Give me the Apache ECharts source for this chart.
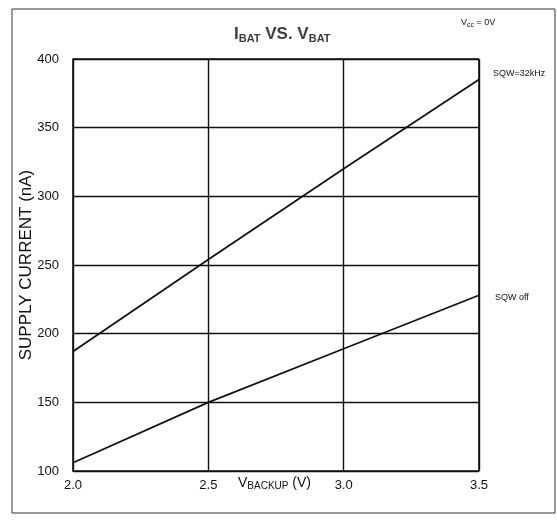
<!DOCTYPE html>
<html><head><meta charset="utf-8">
<script src="https://cdn.jsdelivr.net/npm/echarts@6/dist/echarts.min.js"></script>
<style>html,body{margin:0;padding:0;background:#fff}#c{width:557px;height:529px}</style>
</head><body><div id="c"></div>
<script>
const vBackup = [2.0, 2.5, 3.0, 3.5];
const sqw32k = [187, 254, 320, 385];
const sqwOff = [106, 150, 189, 228];
const xTicks = [2.0, 2.5, 3.0, 3.5];
const yTicks = [100, 150, 200, 250, 300, 350, 400];

const font = '"Liberation Sans Narrow", "Liberation Sans", Arial, sans-serif';
const chart = echarts.init(document.getElementById('c'), null, {renderer: 'canvas'});
const sub = {fontSize: 11, fontWeight: 'bold', fontFamily: font, verticalAlign: 'bottom', lineHeight: 20, padding: [7,0,0,0]};
const main = {fontSize: 17, fontWeight: 'bold', fontFamily: font, lineHeight: 20};
chart.setOption({
  animation: false,
  backgroundColor: '#fff',
  grid: {left: 73, right: 78, top: 59, bottom: 58},
  title: {
    text: '{m|I}{s|BAT}{m| VS. V}{s|BAT}',
    left: 229, top: 19,
    textStyle: {rich: {m: main, s: sub}}
  },
  xAxis: {
    type: 'value', min: 2.0, max: 3.5, interval: 0.5,
    axisLine: {show: true, lineStyle: {color: '#111', width: 1.6}},
    axisTick: {show: false},
    axisLabel: {color: '#111', fontSize: 13, fontFamily: font, margin: 8,
      formatter: v => v.toFixed(1)},
    splitLine: {show: true, lineStyle: {color: '#111', width: 1.4}}
  },
  yAxis: {
    type: 'value', min: 100, max: 400, interval: 50,
    axisLine: {show: true, lineStyle: {color: '#111', width: 1.6}},
    axisTick: {show: false},
    axisLabel: {color: '#111', fontSize: 13, fontFamily: font, margin: 14},
    splitLine: {show: true, lineStyle: {color: '#111', width: 1.4}}
  },
  series: [
    {type: 'line', data: vBackup.map((x, i) => [x, sqw32k[i]]), symbol: 'none',
     lineStyle: {color: '#111', width: 1.8},
     endLabel: {show: true, formatter: 'SQW=32kHz', color: '#111', fontSize: 9, fontFamily: font, offset: [6, -6]}},
    {type: 'line', data: vBackup.map((x, i) => [x, sqwOff[i]]), symbol: 'none',
     lineStyle: {color: '#111', width: 1.8},
     endLabel: {show: true, formatter: 'SQW off', color: '#111', fontSize: 9, fontFamily: font, offset: [8, 2]}},
    {type: 'line', data: [], markLine: {silent: true, symbol: 'none', data: [[{coord:[3.5,100]},{coord:[3.5,400]}]], label:{show:false}, lineStyle:{color:'#111', width:1.6, type:'solid'}}},
    {type: 'line', data: [], markLine: {silent: true, symbol: 'none', data: [[{coord:[2.0,400]},{coord:[3.5,400]}]], label:{show:false}, lineStyle:{color:'#111', width:1.6, type:'solid'}}}
  ],
  graphic: [
    {type: 'text', x: 26, y: 265, rotation: Math.PI / 2,
     style: {text: 'SUPPLY CURRENT (nA)', fontSize: 17, fontFamily: font, fill: '#111', align: 'center', verticalAlign: 'middle'}},
    {type: 'text', left: 238, top: 476, style: {text: '{m|V}{s|BACKUP}{m| (V)}', rich: {
      m: {fontSize: 14, fontFamily: font, fill: '#111', lineHeight: 17},
      s: {fontSize: 10, fontFamily: font, fill: '#111', verticalAlign: 'bottom', padding: [5,0,0,0], lineHeight: 17}
    }}},
    {type: 'text', left: 461, top: 18, style: {text: '{m|V}{s|cc}{m| = 0V}', rich: {
      m: {fontSize: 9, fontFamily: font, fill: '#111', lineHeight: 12},
      s: {fontSize: 7, fontFamily: font, fill: '#111', verticalAlign: 'bottom', padding: [3,0,0,0], lineHeight: 12}
    }}},
    {type: 'rect', shape: {x: 12, y: 9, width: 543, height: 504}, style: {fill: 'none', stroke: '#333', lineWidth: 1}}
  ]
});
</script></body></html>
